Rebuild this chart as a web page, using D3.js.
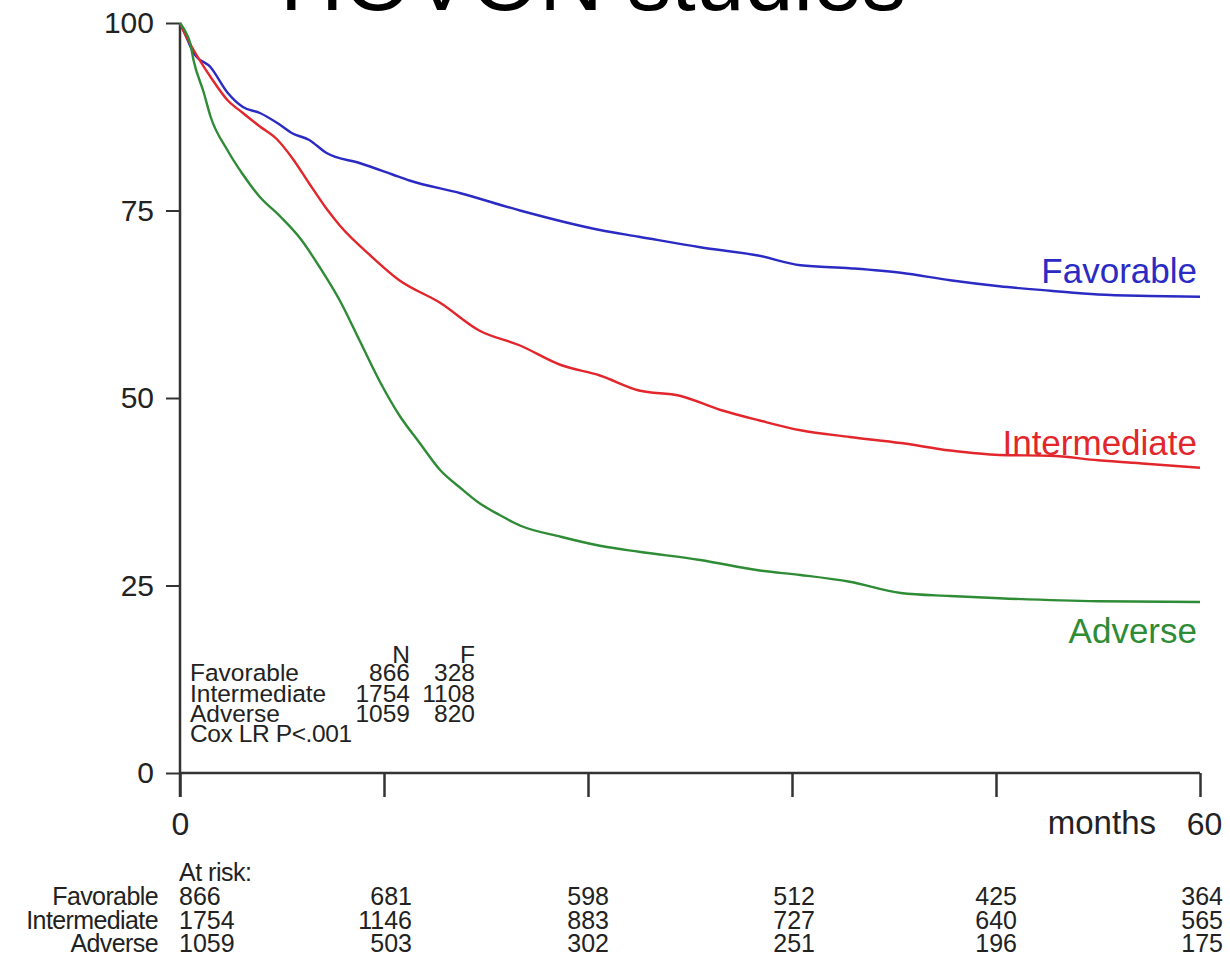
<!DOCTYPE html>
<html><head><meta charset="utf-8">
<script src="https://cdn.jsdelivr.net/npm/d3@7"></script>
<style>
html,body{margin:0;padding:0;background:#fff;}
svg{display:block;font-family:"Liberation Sans",Arial,sans-serif;}
</style></head>
<body>
<svg id="chart" width="1230" height="959"></svg>
<script>
// ---- data ----
const groups = ["Favorable", "Intermediate", "Adverse"];
const favTime = [0,0.3,0.8,1.8,2.8,3.7,4.7,5.7,6.6,7.6,8.6,10.6,12.5,13.5,16.5,20,24.7,27,30.6,34,36.5,39.4,42.4,45.3,48.2,51.2,54,57,60];
const favSurv = [100,98.5,96,94.1,90.7,88.8,88,86.7,85.3,84.4,82.7,81.3,79.8,79,77.3,75,72.4,71.5,70.1,69,67.7,67.3,66.7,65.7,64.9,64.3,63.8,63.6,63.5];
const intTime = [0,0.3,0.8,1.8,2.8,3.7,4.7,5.7,6.6,7.6,8.6,9.4,11.2,12.9,15.3,17.6,20,22.4,24.7,27,29.4,31.8,34.1,36.5,39.4,42.4,45.3,48.2,51.2,54,57,60];
const intSurv = [100,98.5,96.4,92.8,89.7,88,86.2,84.5,82,78.6,75.3,73,69,65.7,62.7,59,57,54.4,53,51,50.3,48.4,47,45.7,44.8,44,43,42.4,42.3,41.7,41.2,40.7];
const advTime = [0,0.4,0.6,0.8,1.4,1.8,2.8,3.7,4.7,5.9,7.1,8.2,9.4,10.6,11.8,12.9,14.1,15.3,16.5,17.6,18.8,20,22.4,24.7,27,30.6,34.1,36.5,39.4,42.4,45.3,48.2,54,60];
const advSurv = [100,98.5,97.3,95,90.7,87.5,83,79.8,76.8,74.2,71.2,67.5,63,57.5,52,47.7,44,40.4,38,36,34.4,33,31.5,30.3,29.5,28.4,27,26.4,25.5,24,23.6,23.3,22.9,22.8];
const seriesColors = ["#2b2bc4", "#e2262b", "#2e8b36"];
const yTicks = [0, 25, 50, 75, 100];
const xTicks = [0, 12, 24, 36, 48, 60];
const statN = [866, 1754, 1059];
const statF = [328, 1108, 820];
const riskFav = [866, 681, 598, 512, 425, 364];
const riskInt = [1754, 1146, 883, 727, 640, 565];
const riskAdv = [1059, 503, 302, 251, 196, 175];

// ---- chart ----
const svg = d3.select("#chart");
const x = d3.scaleLinear().domain([0, 60]).range([180, 1200]);
const y = d3.scaleLinear().domain([0, 100]).range([773, 23]);
const axisColor = "#333";
const textColor = "#222";

// title (cropped at top)
svg.append("text").attr("x", 593).attr("y", 10).attr("text-anchor", "middle")
  .attr("font-size", 88).attr("fill", "#000").text("HOVON studies");

// y axis
const gy = svg.append("g").attr("transform", "translate(180,0)")
  .call(d3.axisLeft(y).tickValues(yTicks).tickSize(14).tickPadding(12).tickFormat(d3.format("d")));
gy.select(".domain").remove();
gy.selectAll(".tick line").attr("stroke", axisColor).attr("stroke-width", 2);
gy.selectAll(".tick text").attr("font-size", 30).attr("fill", textColor)
  .attr("font-family", "Liberation Sans, Arial, sans-serif");
svg.append("line").attr("x1", 180).attr("x2", 180).attr("y1", y(100)).attr("y2", y(0) + 24)
  .attr("stroke", axisColor).attr("stroke-width", 2.5);

// x axis
const gx = svg.append("g").attr("transform", `translate(0,${y(0)})`)
  .call(d3.axisBottom(x).tickValues(xTicks).tickSize(24).tickPadding(15)
    .tickFormat(d => (d === 0 || d === 60) ? String(d) : ""));
gx.select(".domain").remove();
gx.selectAll(".tick line").attr("stroke", axisColor).attr("stroke-width", 2.5);
gx.selectAll(".tick text").attr("font-size", 32).attr("fill", textColor)
  .attr("font-family", "Liberation Sans, Arial, sans-serif");
gx.selectAll(".tick text").filter(d => d === 60).attr("dx", 4);
svg.append("line").attr("x1", 180).attr("x2", x(60)).attr("y1", y(0)).attr("y2", y(0))
  .attr("stroke", axisColor).attr("stroke-width", 2.5);
svg.append("text").attr("x", 1156).attr("y", 834).attr("text-anchor", "end")
  .attr("font-size", 33).attr("fill", textColor).text("months");

// curves
const series = [
  {t: favTime, s: favSurv},
  {t: intTime, s: intSurv},
  {t: advTime, s: advSurv}
];
const line = d3.line().x(d => x(d[0])).y(d => y(d[1])).curve(d3.curveMonotoneX);
series.forEach((sr, i) => {
  const pts = sr.t.map((t, j) => [t, sr.s[j]]);
  svg.append("path").attr("d", line(pts)).attr("fill", "none")
    .attr("stroke", seriesColors[i]).attr("stroke-width", 2.4);
});

// curve labels
const labelY = [283, 455, 643];
groups.forEach((g, i) => {
  svg.append("text").attr("x", 1197).attr("y", labelY[i]).attr("text-anchor", "end")
    .attr("font-size", 35).attr("fill", seriesColors[i]).text(g);
});

// stats table
const st = svg.append("g").attr("font-size", 24.5).attr("fill", textColor);
st.append("text").attr("x", 410).attr("y", 663).attr("text-anchor", "end").text("N");
st.append("text").attr("x", 475).attr("y", 663).attr("text-anchor", "end").text("F");
groups.forEach((g, i) => {
  const yy = 681 + i * 20.5;
  st.append("text").attr("x", 190).attr("y", yy).text(g);
  st.append("text").attr("x", 410).attr("y", yy).attr("text-anchor", "end").text(statN[i]);
  st.append("text").attr("x", 475).attr("y", yy).attr("text-anchor", "end").text(statF[i]);
});
st.append("text").attr("x", 190).attr("y", 742).attr("letter-spacing", -0.4).text("Cox LR P<.001");

// at risk table
const colOffset = [0, 28, 21, 23, 21, 23];
const rk = svg.append("g").attr("font-size", 25).attr("fill", textColor);
rk.append("text").attr("x", 179).attr("y", 881).attr("letter-spacing", -0.5).text("At risk:");
const risk = [riskFav, riskInt, riskAdv];
groups.forEach((g, i) => {
  const yy = 905 + i * 23.5;
  rk.append("text").attr("x", 158).attr("y", yy).attr("text-anchor", "end").attr("letter-spacing", -0.6).text(g);
  risk[i].forEach((v, j) => {
    const t = xTicks[j];
    if (j === 0) {
      rk.append("text").attr("x", x(t) - 1).attr("y", yy).text(v);
    } else {
      rk.append("text").attr("x", x(t) + colOffset[j]).attr("y", yy).attr("text-anchor", "end").text(v);
    }
  });
});
</script>
</body></html>
